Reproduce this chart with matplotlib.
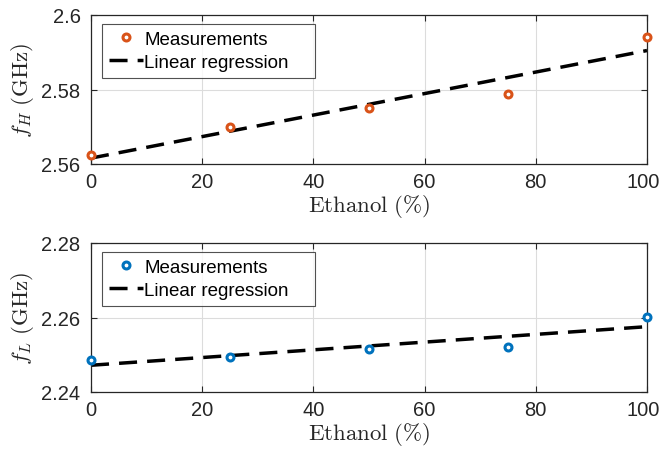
import numpy as np
import matplotlib
matplotlib.use("Agg")
import matplotlib.pyplot as plt
import matplotlib.transforms as mtransforms

plt.rcParams['font.family'] = ['Liberation Sans', 'DejaVu Sans']
plt.rcParams['mathtext.fontset'] = 'cm'

ethanol = [0, 25, 50, 75, 100]
f_high = [2.5624, 2.5699, 2.5750, 2.5787, 2.5941]
f_low = [2.2486, 2.2494, 2.2515, 2.2521, 2.2602]
xticks = [0, 20, 40, 60, 80, 100]
yticks_high = [2.56, 2.58, 2.6]
yticks_low = [2.24, 2.26, 2.28]
ytick_labels_high = ['2.56', '2.58', '2.6']
ytick_labels_low = ['2.24', '2.26', '2.28']

orange = '#D95319'
blue = '#0072BD'
edge = '#262626'

fig = plt.figure(figsize=(6.63, 4.56), dpi=100)
ax1 = fig.add_axes([91/663, 1-165/456, 556/663, 149/456])
ax2 = fig.add_axes([91/663, 1-393/456, 556/663, 149/456])

def draw(ax, y, color, ylabel, yticks, ylabels):
    x = np.array(ethanol, float)
    yv = np.array(y, float)
    p = np.polyfit(x, yv, 1)
    xl = np.array([x.min(), x.max()])
    ax.plot(x, yv, 'o', mfc='white', mec=color, mew=2.2, ms=5,
            label='Measurements', zorder=3, clip_on=False)
    ax.plot(xl, np.polyval(p, xl), '--', color='black', lw=2.5,
            dashes=(5.2, 2.9), label='Linear regression', zorder=2)
    ax.set_xlim(0, 100)
    ax.set_ylim(yticks[0], yticks[-1])
    ax.set_xticks(xticks)
    ax.set_yticks(yticks)
    ax.set_yticklabels(ylabels)
    ax.grid(True, color='#dcdcdc', lw=0.8)
    ax.set_axisbelow(True)
    ax.tick_params(direction='in', top=True, right=True, labelsize=14.5,
                   colors=edge, length=4, width=0.8)
    ax.tick_params(axis='x', pad=5.5)
    ax.tick_params(axis='y', pad=7.5)
    # keep the last x tick label inside the figure, as in the reference
    last = ax.get_xticklabels()[-1]
    last.set_transform(last.get_transform() +
                       mtransforms.ScaledTranslation(-4/100, 0, fig.dpi_scale_trans))
    for s in ax.spines.values():
        s.set_color(edge)
        s.set_linewidth(0.9)
    ax.set_xlabel(r'$\mathrm{Ethanol\ (\%)}$', fontsize=16.5, color=edge, labelpad=1)
    ax.set_ylabel(ylabel, fontsize=16.5, color=edge, labelpad=4)
    leg = ax.legend(loc='upper left', fontsize=13.5, frameon=True, fancybox=False,
                    edgecolor=edge, borderpad=0.35, labelspacing=0.33,
                    handlelength=1.8, handletextpad=0.1, borderaxespad=0.0,
                    mode='expand',
                    bbox_to_anchor=(0.0203, 0.5, 0.3825, 0.4396))
    leg.get_frame().set_linewidth(0.8)

draw(ax1, f_high, orange, r'$f_H\ \mathrm{(GHz)}$', yticks_high, ytick_labels_high)
draw(ax2, f_low, blue, r'$f_L\ \mathrm{(GHz)}$', yticks_low, ytick_labels_low)

fig.savefig('out.png', dpi=100)
